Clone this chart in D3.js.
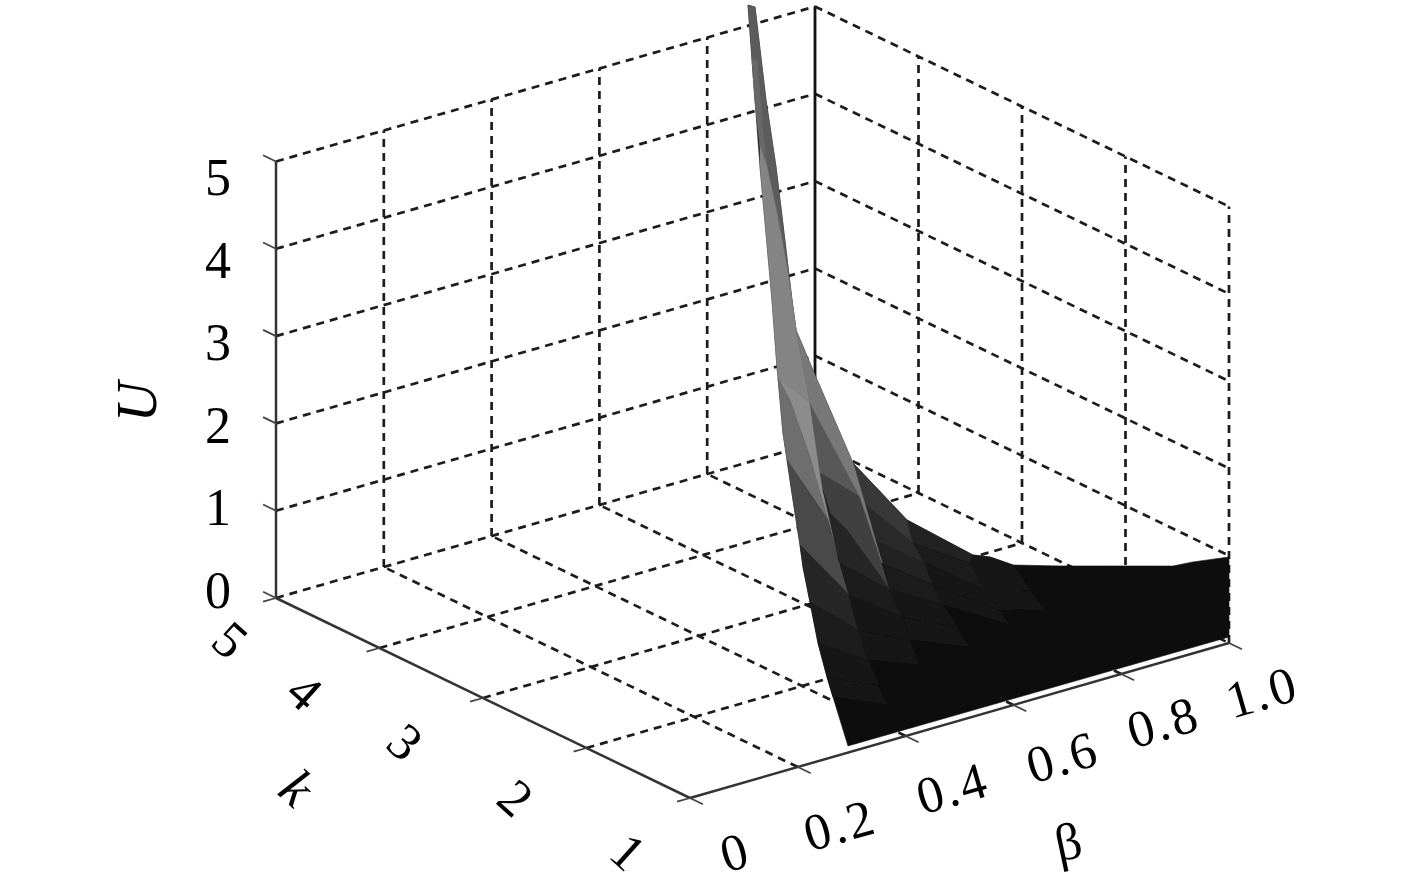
<!DOCTYPE html>
<html><head><meta charset="utf-8">
<script src="https://cdn.jsdelivr.net/npm/d3@7"></script>
<style>html,body{margin:0;padding:0;background:#fff}svg{display:block}text{font-family:"Liberation Serif",serif;fill:#000}</style>
</head><body><svg id="c" width="1417" height="879"></svg>
<script>
// tick values and labels
const betaTicks = [0, 0.2, 0.4, 0.6, 0.8, 1.0];
const betaLabels = ["0", "0.2", "0.4", "0.6", "0.8", "1.0"];
const kTicks = [1, 2, 3, 4, 5];
const kLabels = ["1", "2", "3", "4", "5"];
const uTicks = [0, 1, 2, 3, 4, 5];
const uLabels = ["0", "1", "2", "3", "4", "5"];
// surface vertices (all lie on the k = 1 sheet of the projection)
const surfaceBeta = [
.1076,.1206,.1206,.1410,.1299,.1299,.1429,.1596,.1614,.1744,
.1410,.1800,.1892,.1521,.1967,.1614,.1633,.2319,.2226,.1855,
.1725,.2226,.1800,.3024,.2690,.2468,.2412,.3154,.3210,.2505,
.2597,.2560,.4026,.2913,.3432,.4137,.2041,.2746,.5250,.2783,
.3562,.4360,.5195,.5993,.5473,.4508,.3711,.2950,.6308,.5473,
.2226,.4694,.5751,.5751,.6586,.3933,.4954,.5937,.3117,.4082,
.2375,.5195,.3302,.4267,.2542,.3488,.1911,.2096,.2653,.2931,
1,1,.9332,.8961,.6865,.5566,.1150,.1243,.1354,.3673];
const surfaceU = [
8.892,8.846,7.781,7.745,7.227,6.998,6.975,6.945,6.415,6.163,
6.221,5.763,5.369,5.434,5.011,4.651,4.521,4.434,4.129,4.229,
3.875,3.511,3.552,3.300,3.509,3.090,3.294,2.888,2.810,2.855,
2.803,2.730,2.470,2.553,2.346,2.187,2.536,2.273,1.851,2.198,
2.060,1.918,1.770,1.605,1.526,1.639,1.724,1.802,1.262,1.411,
1.850,1.377,1.190,1.133,.984,1.375,1.079,.928,1.371,1.085,
1.354,.808,.994,.766,.935,.675,3.074,2.274,.686,.076,
.069,.985,1.047,1.066,1.439,1.772,8.250,8.233,7.411,.414];
const surfaceK = 1;
// facets: vertex indices and gray level, in paint order
const facetVertices = [
[1,3,7,9,12,14,17,23,32,38,75,43,74,73,72,71,70,69,68,64,60,50,67,36,66,22,20,16,15,13,10,5,2,0],
[0,1,3,7,9,12,14,11,8,6,4,2],
[76,77,78,6,4,2],
[4,6,8,11,14,18,16,15,13,10,5],
[16,18,25,37,29,21,19],
[16,19,21,29,31,22,20],
[22,31,37,47,36,66],
[36,47,58,50,67],
[50,58,62,60],
[60,62,65,64],
[64,65,79,68],
[18,24,27,26],
[26,27,40,46,33,30,25],
[25,30,33,46,39,37],
[37,39,46,55,47],
[47,55,59,58],
[58,59,63,62],
[23,32,35,28],
[28,35,41,34],
[34,41,45,40],
[40,45,51,46],
[46,51,56,55],
[55,56,61,59],
[32,38,42,35],
[35,42,49,41],
[41,49,53,45],
[45,53,57,51],
[38,75,43,48,49,42],
[49,48,54,53],
[14,17,23,40,27,24,18]
];
const facetGray = [15,92,104,132,140,110,72,38,28,22,18,88,64,38,27,22,18,56,44,34,26,21,18,36,26,21,18,24,19,120];

// projection scales
const ox = 690, oy = 798;
const bx = d3.scaleLinear().domain([0,1]).range([0,539]);
const by = d3.scaleLinear().domain([0,1]).range([0,-155]);
const kx = d3.scaleLinear().domain([1,5]).range([0,-414]);
const ky = d3.scaleLinear().domain([1,5]).range([0,-200]);
const uy = d3.scaleLinear().domain([0,5]).range([0,-436.5]);
const P = (b,k,u) => [ox + bx(b) + kx(k), oy + by(b) + ky(k) + uy(u)];
const line = d3.line();
const svg = d3.select("#c");

// dashed grid
const dashed = [];
uTicks.forEach(u => {
  if (u > 0) { dashed.push([P(0,5,u),P(1,5,u)]); dashed.push([P(1,5,u),P(1,1,u)]); }
});
dashed.push([P(0,5,0),P(1,5,0)]);
dashed.push([P(1,5,0),P(1,1,0)]);
betaTicks.slice(1,-1).forEach(b => dashed.push([P(b,5,0),P(b,5,5)]));
kTicks.slice(0,-1).forEach(k => dashed.push([P(1,k,0),P(1,k,5)]));
kTicks.slice(1,-1).forEach(k => dashed.push([P(0,k,0),P(1,k,0)]));
betaTicks.slice(1,-1).forEach(b => dashed.push([P(b,1,0),P(b,5,0)]));
svg.append("g").selectAll("path").data(dashed).join("path")
  .attr("d", line).attr("fill","none").attr("stroke","#1c1c1c")
  .attr("stroke-width",2.7).attr("stroke-dasharray","8 6");

// back vertical
svg.append("path").attr("d", line([P(1,5,0),P(1,5,5)])).attr("stroke","#111").attr("stroke-width",2.8).attr("fill","none");

// axes
const axes = [[P(0,5,0),P(0,5,5)],[P(0,5,0),P(0,1,0)],[P(0,1,0),P(1,1,0)]];
svg.append("g").selectAll("path").data(axes).join("path").attr("d",line)
  .attr("stroke","#333").attr("stroke-width",2.5).attr("fill","none");

// tick marks
const tickDk = 0.125, tickDb = 0.024;
const tickSegs = [];
uTicks.forEach(u => tickSegs.push([P(0,5,u),P(0,5+tickDk,u)]));
kTicks.forEach(k => tickSegs.push([P(0,k,0),P(-tickDb,k,0)]));
betaTicks.forEach(b => tickSegs.push([P(b,1,0),P(b,1-tickDk,0)]));
svg.append("g").selectAll("path").data(tickSegs).join("path").attr("d",line)
  .attr("stroke","#444").attr("stroke-width",1.8).attr("fill","none");

// surface
svg.append("defs").append("filter").attr("id","soft").append("feGaussianBlur").attr("stdDeviation",0.5);
svg.append("g").attr("filter","url(#soft)").selectAll("path").data(facetVertices).join("path")
  .attr("d", f => line(f.map(i => P(surfaceBeta[i], surfaceK, surfaceU[i]))) + "Z")
  .attr("fill", (f,i) => d3.rgb(facetGray[i],facetGray[i],facetGray[i]))
  .attr("stroke", (f,i) => d3.rgb(facetGray[i],facetGray[i],facetGray[i]))
  .attr("stroke-width",0.6).attr("stroke-linejoin","round");

// tick labels
const uLabelY = d3.scaleLinear().domain([0,5]).range([608,195]);
svg.append("g").selectAll("text").data(uTicks).join("text")
  .attr("x",218).attr("y",u => uLabelY(u)).attr("text-anchor","middle").attr("font-size",52)
  .text((u,i) => uLabels[i]);

const kOff = [[-62,54],[-71,50],[-78,44],[-75,44],[-46,42]];
svg.append("g").selectAll("text").data(kTicks).join("text")
  .attr("text-anchor","middle").attr("font-size",52).attr("dominant-baseline","central")
  .attr("transform",(k,i) => { const p = P(0,k,0); return `translate(${p[0]+kOff[i][0]},${p[1]+kOff[i][1]}) rotate(42)`; })
  .text((k,i) => kLabels[i]);

const bOff = [[45,54],[42,58],[47,52],[49,52],[42,48],[33,49]];
svg.append("g").selectAll("text").data(betaTicks).join("text")
  .attr("text-anchor","middle").attr("font-size",52).attr("dominant-baseline","central")
  .attr("letter-spacing","2.5px")
  .attr("transform",(b,i) => { const p = P(b,1,0); return `translate(${p[0]+bOff[i][0]},${p[1]+bOff[i][1]}) rotate(-16)`; })
  .text((b,i) => betaLabels[i]);

// axis titles
svg.append("text").attr("text-anchor","middle").attr("font-size",56).attr("font-style","italic")
  .attr("transform","translate(156,402) rotate(-90)").text("U");
svg.append("text").attr("text-anchor","middle").attr("font-size",52).attr("dominant-baseline","central")
  .attr("transform","translate(1068,842) rotate(-12)").text("β");
svg.append("text").attr("text-anchor","middle").attr("font-size",54).attr("font-style","italic").attr("dominant-baseline","central")
  .attr("transform","translate(297,788) rotate(42)").text("k");
</script></body></html>
